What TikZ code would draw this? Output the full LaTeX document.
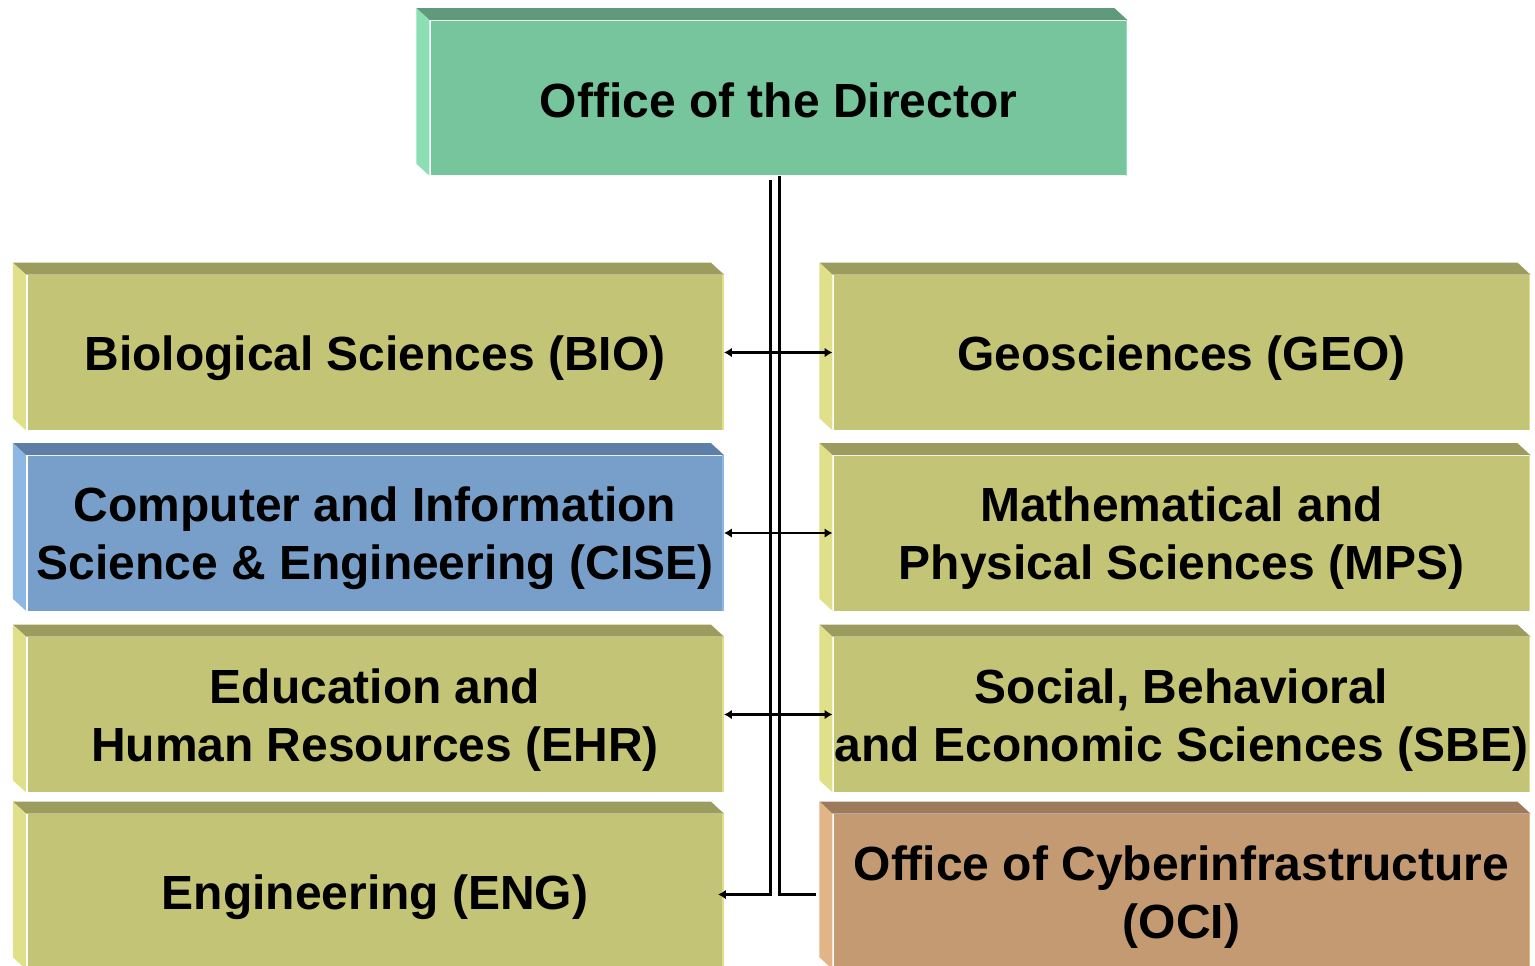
\documentclass[tikz,border=0pt]{standalone}
\usepackage{fontspec}
\setmainfont{Liberation Sans}
\usepackage{tikz}
\usetikzlibrary{arrows.meta}

\definecolor{GreenFront}{HTML}{76C59C}
\definecolor{GreenTop}{HTML}{5E9A7B}
\definecolor{GreenSide}{HTML}{8CDEB4}
\definecolor{OliveFront}{HTML}{C4C477}
\definecolor{OliveTop}{HTML}{9C9C5E}
\definecolor{OliveSide}{HTML}{E0E08A}
\definecolor{BlueFront}{HTML}{789FC9}
\definecolor{BlueTop}{HTML}{5D7FA7}
\definecolor{BlueSide}{HTML}{8EB8E4}
\definecolor{BrownFront}{HTML}{C49A73}
\definecolor{BrownTop}{HTML}{9C7A5C}
\definecolor{BrownSide}{HTML}{E2B488}

% top and left faces of a bevelled box
\newcommand{\boxfaces}[3]{%
	\fill[#2] (#1.north west) -- ++(-13,-12) -- ([shift={(-13,-12)}]#1.north east) -- (#1.north east) -- cycle;
	\fill[#3] (#1.north west) -- ++(-13,-12) -- ([shift={(-13,-12)}]#1.south west) -- (#1.south west) -- cycle;
	\draw[white, line width=0.8pt] ([xshift=0.6pt]#1.north west) -- ([xshift=0.6pt]#1.south west);
	\draw[#3, line width=0.9pt] ([xshift=-0.5pt]#1.north east) -- ([xshift=-0.5pt]#1.south east);
}
% pushes the text of a box a little down
\newcommand{\lift}{\rule{0pt}{26pt}}

\begin{document}
\begin{tikzpicture}[x=0.02cm, y=-0.02cm,
	unit/.style={fill=#1, inner sep=0, minimum width=13.95cm, minimum height=3.1cm, align=center, font=\bfseries\fontsize{27.3}{33}\selectfont},
	link/.style={black, line width=1.2pt, {Latex[length=4.5pt,width=5.5pt]}-{Latex[length=4.5pt,width=5.5pt]}},
	trunk/.style={black, line width=1.7pt}]
	\useasboundingbox (0,0) rectangle (1535,965);

	\node[unit=GreenFront] (dir) at (778.5,98) {\rule{0pt}{22pt}Office of the Director};
	\boxfaces{dir}{GreenTop}{GreenSide}

	\node[unit=OliveFront] (bio) at (375,352.5) {\lift Biological Sciences (BIO)};
	\boxfaces{bio}{OliveTop}{OliveSide}
	\node[unit=BlueFront] (cise) at (375,533) {\lift Computer and Information\\Science \& Engineering (CISE)};
	\boxfaces{cise}{BlueTop}{BlueSide}
	\node[unit=OliveFront] (ehr) at (375,714.5) {\lift Education and\\Human Resources (EHR)};
	\boxfaces{ehr}{OliveTop}{OliveSide}
	\node[unit=OliveFront] (eng) at (375,891.5) {\lift Engineering (ENG)};
	\boxfaces{eng}{OliveTop}{OliveSide}

	\node[unit=OliveFront] (geo) at (1181.5,352.5) {\lift Geosciences (GEO)};
	\boxfaces{geo}{OliveTop}{OliveSide}
	\node[unit=OliveFront] (mps) at (1181.5,533) {\lift Mathematical and\\Physical Sciences (MPS)};
	\boxfaces{mps}{OliveTop}{OliveSide}
	\node[unit=OliveFront] (sbe) at (1181.5,714.5) {\lift Social, Behavioral\\and Economic Sciences (SBE)};
	\boxfaces{sbe}{OliveTop}{OliveSide}
	\node[unit=BrownFront] (oci) at (1181.5,891.5) {\lift Office of Cyberinfrastructure\\(OCI)};
	\boxfaces{oci}{BrownTop}{BrownSide}

	% the two lines down from the director
	\draw[trunk, -{Latex[length=4.5pt,width=5.5pt]}] ([shift={(-8.5,4)}]dir.south) |- ([shift={(-6,3)}]eng.east);
	\draw[trunk] ([shift={(0.5,0)}]dir.south) |- ([shift={(-16,3)}]oci.west);

	\draw[link] (bio.east) -- (geo.west);
	\draw[link] (cise.east) -- (mps.west);
	\draw[link] (ehr.east) -- (sbe.west);
\end{tikzpicture}
\end{document}
